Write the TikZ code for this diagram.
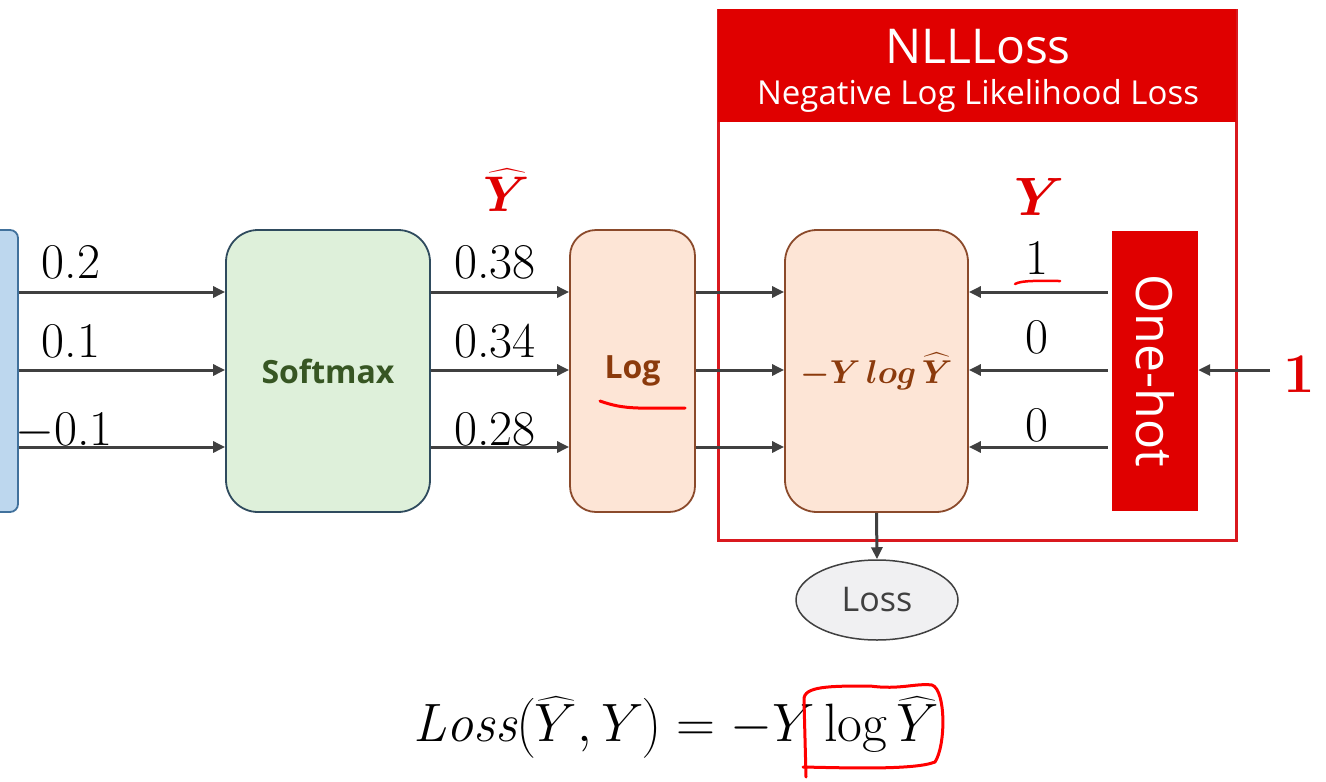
\RequirePackage{fix-cm}
\documentclass[tikz,border=0pt]{standalone}
\usepackage{amsmath,bm}
\usepackage{fontspec}
\setsansfont{Open Sans}
\usetikzlibrary{arrows.meta,shapes.geometric}
\definecolor{arrgray}{HTML}{404040}
\definecolor{bluefill}{HTML}{BDD7EE}
\definecolor{blueline}{HTML}{41719C}
\definecolor{greenfill}{HTML}{DEF0DA}
\definecolor{greenline}{HTML}{2F4B5E}
\definecolor{greentext}{HTML}{375623}
\definecolor{peachfill}{HTML}{FDE5D6}
\definecolor{brownline}{HTML}{8B4A2B}
\definecolor{browntext}{HTML}{8B3A0C}
\definecolor{nllred}{HTML}{E00000}
\definecolor{framered}{HTML}{D9191F}
\definecolor{lossfill}{HTML}{F0F0F2}
\tikzset{
  arr/.style={draw=arrgray, line width=3pt, -{Triangle[length=12pt,width=11pt]}},
  blockbox/.style={draw, line width=1.8pt, rounded corners=32pt, minimum height=282pt, inner sep=0pt},
  numtxt/.style={font=\fontsize{50}{50}\selectfont, inner sep=0pt},
  redpen/.style={draw=red, line width=3pt, line cap=round, line join=round},
}
\begin{document}
\begin{tikzpicture}[x=1pt,y=-1pt]
\useasboundingbox (0,0) rectangle (1326,782);
% row coordinates
\coordinate (r1) at (0,292);
\coordinate (r2) at (0,370);
\coordinate (r3) at (0,447);
% input box (cut off)
\node[blockbox, rounded corners=8pt, draw=blueline, fill=bluefill, minimum width=60pt] (inbox) at (-12,371) {};
% softmax
\node[blockbox, draw=greenline, fill=greenfill, minimum width=204pt, text=greentext,
  font=\sffamily\bfseries\fontsize{32}{32}\selectfont] (softmax) at (328,371) {Softmax};
% log
\node[blockbox, draw=brownline, fill=peachfill, minimum width=125pt, rounded corners=26pt, text=browntext,
  font=\sffamily\bfseries\fontsize{32}{32}\selectfont] (logbox) at (632.5,371) {Log};
% NLL frame
\node[draw=framered, line width=3pt, minimum width=518pt, minimum height=530pt, inner sep=0pt] (nll) at (977,275) {};
\node[fill=nllred, minimum width=518pt, minimum height=113pt, inner sep=0pt, anchor=north] (nllhead) at (nll.north) {};
\node[text=white, font=\sffamily\fontsize{48}{48}\selectfont] (nlltitle) at (978,47) {NLLLoss};
\node[text=white, font=\sffamily\fontsize{33}{33}\selectfont] (nllsub) at (978,96) {Negative Log Likelihood Loss};
% formula box
\node[blockbox, draw=brownline, fill=peachfill, minimum width=183pt, text=browntext,
  font=\fontsize{33}{33}\selectfont] (formula) at (876.5,371) {$\bm{-Y\,log\,\widehat{Y}}$};
% one-hot
\node[fill=nllred, minimum width=86pt, minimum height=280pt, inner sep=0pt] (onehot) at (1155,371) {};
\node[text=white, rotate=-90, font=\sffamily\fontsize{50}{50}\selectfont] (onehottxt) at (1155,371) {One-hot};
% loss ellipse
\node[ellipse, draw=arrgray, line width=1.5pt, fill=lossfill, minimum width=162pt, minimum height=80pt,
  text=arrgray, font=\sffamily\fontsize{34}{34}\selectfont] (loss) at (877,600) {Loss};
% input 1
\coordinate (one) at (1270,370);
\node[text=nllred, font=\bfseries\fontsize{56}{56}\selectfont] (onelbl) at (1299,374) {1};
% arrows
\foreach \r in {r1,r2,r3}{
  \draw[arr] (inbox.east |- \r) -- (softmax.west |- \r);
  \draw[arr] (softmax.east |- \r) -- (logbox.west |- \r);
  \draw[arr] (logbox.east |- \r) -- (formula.west |- \r);
  \draw[arr] ([xshift=-4pt]onehot.west |- \r) -- (formula.east |- \r);
}
\draw[arr] (one) -- (onehot.east |- one);
\draw[arr] (formula.south) -- (loss.north);
% labels
\node[numtxt] (a1) at (71,262) {0.2};
\node[numtxt] (a2) at (71,341) {0.1};
\node[numtxt] (a3) at (64,431) {$-$0.1};
\node[numtxt] (b1) at (495,262) {0.38};
\node[numtxt] (b2) at (495,341) {0.34};
\node[numtxt] (b3) at (495,429) {0.28};
\node[numtxt] (c1) at (1037,258) {1};
\node[numtxt] (c2) at (1037,337) {0};
\node[numtxt] (c3) at (1037,425) {0};
\node[text=nllred, font=\fontsize{50}{50}\selectfont] (yhat) at (507,190) {$\bm{\widehat{Y}}$};
\node[text=nllred, font=\fontsize{54}{54}\selectfont] (ylbl) at (1040,197) {$\bm{Y}$};
% bottom formula
\node[font=\fontsize{54}{54}\selectfont] (eq) at (676,728) {$\mathit{Loss}\bigl(\widehat{Y},Y\bigr)=-Y\log\widehat{Y}$};
% hand annotations
\draw[redpen] (600,401) .. controls (625,410) and (640,408) .. (685,408);
\draw[redpen, line width=2.5pt] (1015,284) .. controls (1022,280) and (1040,281) .. (1060,281);
\draw[redpen] (806,777) -- (804,700) .. controls (803,686) and (830,686) .. (870,686)
  .. controls (900,690) and (915,683) .. (932,685) .. controls (946,690) and (946,745) .. (935,762)
  .. controls (915,770) and (850,768) .. (803,767);
\end{tikzpicture}
\end{document}
